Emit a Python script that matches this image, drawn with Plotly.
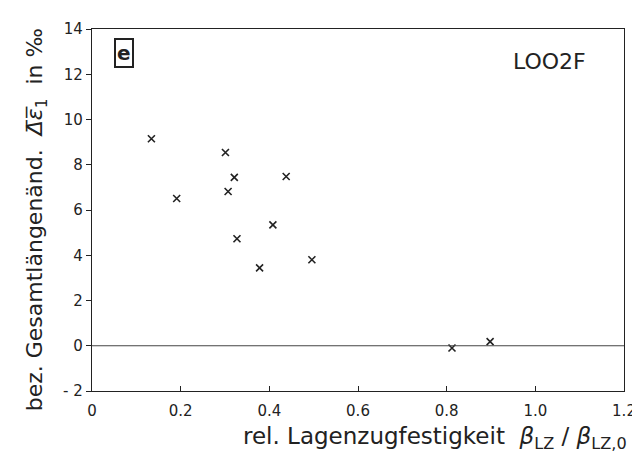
import plotly.graph_objects as go

# data
rel_strength = [0.134, 0.191, 0.301, 0.307, 0.321, 0.327, 0.378, 0.408, 0.438, 0.496, 0.812, 0.898]
strain_change = [9.15, 6.51, 8.54, 6.82, 7.44, 4.73, 3.44, 5.34, 7.48, 3.80, -0.10, 0.18]

x_ticks = [0, 0.2, 0.4, 0.6, 0.8, 1.0, 1.2]
x_ticktext = ["0", "0.2", "0.4", "0.6", "0.8", "1.0", "1.2"]
y_ticks = [-2, 0, 2, 4, 6, 8, 10, 12, 14]
y_ticktext = ["- 2", "0", "2", "4", "6", "8", "10", "12", "14"]

FONT = "DejaVu Sans"
INK = "#222222"

fig = go.Figure()
fig.add_trace(go.Scatter(
    x=rel_strength, y=strain_change, mode="markers",
    marker=dict(symbol="x-thin", size=7, line=dict(width=1.6, color=INK), color=INK),
    showlegend=False, hoverinfo="skip",
))

# zero reference line
fig.add_hline(y=0, line=dict(color="#444444", width=1))

fig.update_xaxes(
    range=[0, 1.2], tickvals=x_ticks, ticktext=x_ticktext,
    showgrid=False, zeroline=False, showline=True, mirror=True,
    linecolor=INK, linewidth=1.3, ticks="inside", ticklen=5, tickcolor=INK,
    tickfont=dict(family=FONT, size=15, color=INK), ticklabelstandoff=6,
)
fig.update_yaxes(
    range=[-2, 14], tickvals=y_ticks, ticktext=y_ticktext,
    showgrid=False, zeroline=False, showline=True, mirror=True,
    linecolor=INK, linewidth=1.3, ticks="outside", ticklen=5, tickcolor=INK,
    tickfont=dict(family=FONT, size=15, color=INK),
)

L, R, T, B = 84, 21, 19, 73
W, H = 640, 456
pw, ph = W - L - R, H - T - B

def px(xpix):
    return (xpix - L) / pw

def py(ypix):
    return 1 - (ypix - T) / ph

annotations = [
    dict(text="<b>e</b>", x=px(116), y=py(43), xref="paper", yref="paper",
         showarrow=False, font=dict(family=FONT, size=20, color=INK),
         bordercolor=INK, borderwidth=2, borderpad=1, xanchor="center", yanchor="middle"),
    dict(text="LOO2F", x=px(583), y=py(52), xref="paper", yref="paper",
         showarrow=False, font=dict(family=FONT, size=22, color=INK),
         xanchor="right", yanchor="middle"),
    dict(text="rel. Lagenzugfestigkeit  <i>β</i><sub>LZ</sub> / <i>β</i><sub>LZ,0</sub>",
         x=px(624), y=py(430), xref="paper", yref="paper",
         showarrow=False, font=dict(family=FONT, size=23, color=INK),
         xanchor="right", yanchor="middle"),
    dict(text="bez. Gesamtlängenänd.  <i>Δ̅ε̅</i><sub>1</sub>  in ‰",
         x=px(29), y=py(211), xref="paper", yref="paper", textangle=-90,
         showarrow=False, font=dict(family=FONT, size=22, color=INK),
         xanchor="center", yanchor="middle"),
]

fig.update_layout(
    width=W, height=H,
    margin=dict(l=L, r=R, t=T, b=B),
    paper_bgcolor="white", plot_bgcolor="white",
    annotations=annotations,
)

fig.write_html("out.html")
